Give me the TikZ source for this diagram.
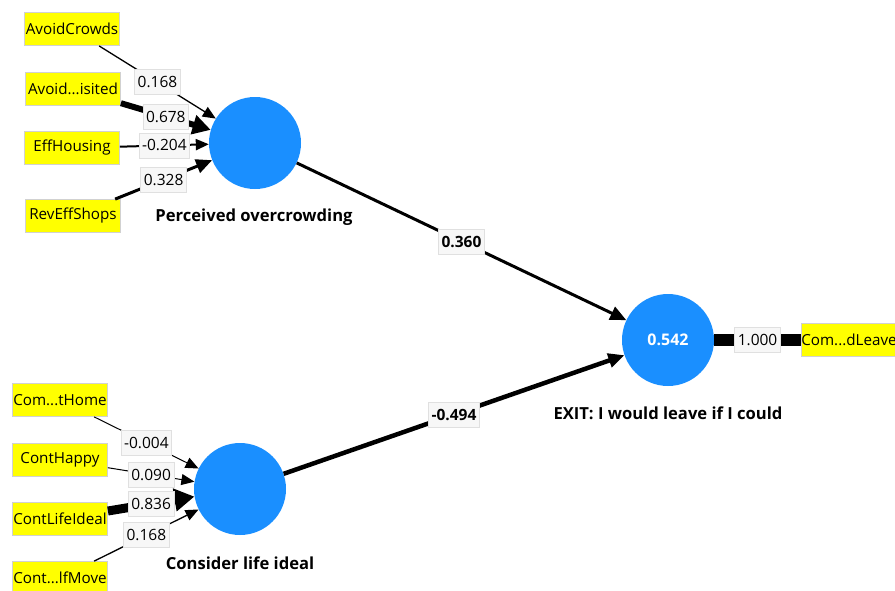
\documentclass[tikz,border=0pt]{standalone}
\usepackage{fontspec}
\setmainfont{Open Sans}
\usetikzlibrary{arrows.meta}
\definecolor{lvblue}{HTML}{1A8FFF}
\definecolor{ylw}{HTML}{FFFF00}
\begin{document}
\begin{tikzpicture}[x=1pt,y=-1pt,
  ind/.style={rectangle,fill=ylw,draw=black!18,line width=0.8pt,minimum width=95pt,minimum height=33pt,inner sep=0pt,font=\fontsize{15.2}{16}\selectfont},
  lv/.style={circle,fill=lvblue,minimum size=92pt,inner sep=0pt},
  wt/.style={fill=black!3,draw=black!12,line width=0.7pt,inner xsep=3pt,inner ysep=0pt,minimum height=25pt,font=\fontsize{15.5}{16}\selectfont},
  pwt/.style={wt,font=\fontsize{15.5}{16}\selectfont\bfseries},
  lvlab/.style={font=\fontsize{16.6}{18}\selectfont\bfseries},
  tipS/.style={-{Triangle[length=13pt,width=11pt]}},
  tipM/.style={-{Triangle[length=16pt,width=14pt]}},
  tipL/.style={-{Triangle[length=18pt,width=19pt]}},
  tipXL/.style={-{Triangle[length=20pt,width=22pt]}}]
\useasboundingbox (0,0) rectangle (895,590);
\fill[white] (0,0) rectangle (895,590);
% latent variables
\node[lv] (po) at (255,143) {};
\node[lv] (cli) at (240,489) {};
\node[lv,text=white,font=\fontsize{16}{18}\selectfont\bfseries] (ex) at (668,340) {0.542};
\node[lvlab] (polab) at (254,217) {Perceived overcrowding};
\node[lvlab] (clilab) at (240,563) {Consider life ideal};
\node[lvlab] (exlab) at (668,413) {EXIT: I would leave if I could};
% indicators
\node[ind] (ac) at (72,29) {AvoidCrowds};
\node[ind] (av) at (73,89) {Avoid...isited};
\node[ind] (eh) at (72,148) {EffHousing};
\node[ind] (rs) at (73,216) {RevEffShops};
\node[ind] (ch) at (60,400) {Com...tHome};
\node[ind] (hp) at (60,460) {ContHappy};
\node[ind] (li) at (60,519) {ContLifeIdeal};
\node[ind] (mv) at (60,578) {Cont...lfMove};
\node[ind] (cl) at (849,340) {Com...dLeave};
% outer weights
\draw[line width=1.3pt,tipS] (ac) -- node[wt]{0.168} (po);
\draw[line width=6pt,tipL] (av) -- node[wt]{0.678} (po);
\draw[line width=2pt,tipS] (eh) -- node[wt]{-0.204} (po);
\draw[line width=3pt,tipM] (rs) -- node[wt]{0.328} (po);
\draw[line width=1pt,tipS] (ch) -- node[wt]{-0.004} (cli);
\draw[line width=1pt,tipS] (hp) -- node[wt]{0.090} (cli);
\draw[line width=9pt,tipXL] (li) -- node[wt]{0.836} (cli);
\draw[line width=1.3pt,tipS] (mv) -- node[wt]{0.168} (cli);
% paths
\draw[line width=3pt,tipM] (po) -- node[pwt]{0.360} (ex);
\draw[line width=4.5pt,tipM] (cli) -- node[pwt]{-0.494} (ex);
\draw[line width=12pt] (ex) -- node[wt]{1.000} (cl);
\end{tikzpicture}
\end{document}
